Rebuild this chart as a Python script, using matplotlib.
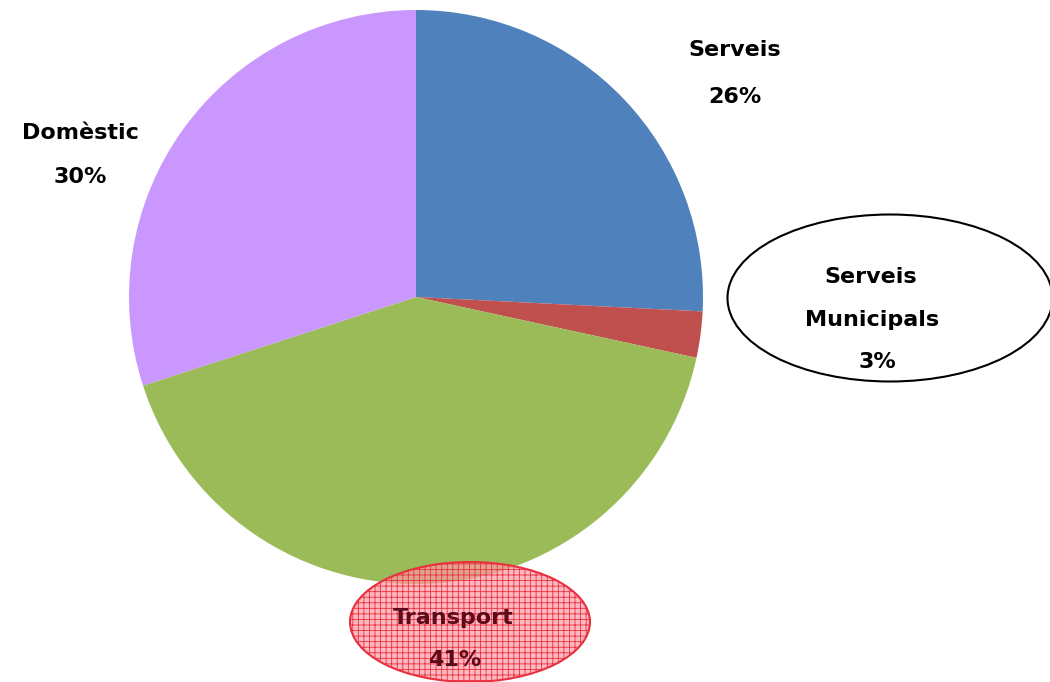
import matplotlib
matplotlib.use("Agg")
from matplotlib import pyplot as plt
from matplotlib.patches import Ellipse

# part de cada sector (sentit horari, des de dalt)
sectors = ["Serveis", "Serveis\nMunicipals", "Transport", "Domèstic"]
valors = [25.8, 2.6, 41.6, 30.0]
etiquetes = ["26%", "3%", "41%", "30%"]
colors = ["#4F81BD", "#C0504D", "#9BBB59", "#C997FD"]

plt.rcParams["hatch.color"] = "#F26A78"
plt.rcParams["hatch.linewidth"] = 0.6

fig = plt.figure(figsize=(10.5, 6.82), dpi=100)
cx, cy, r = 416, 297, 287
ax = fig.add_axes([(cx - r) / 1050, (682 - cy - r) / 682, 2 * r / 1050, 2 * r / 682])
ax.pie(valors, colors=colors, startangle=90, counterclock=False, radius=1,
       wedgeprops=dict(linewidth=0))
ax.set_xlim(-1, 1)
ax.set_ylim(-1, 1)
ax.set_aspect("equal")
ax.axis("off")

def px(x, y):
    return (x - cx) / r, (cy - y) / r

font = dict(fontsize=16, fontweight="bold", family="DejaVu Sans", ha="center", va="center")

# Serveis
ax.text(*px(735, 50), sectors[0], **font, clip_on=False)
ax.text(*px(735, 97), etiquetes[0], **font, clip_on=False)

# Domèstic
ax.text(*px(80, 133), sectors[3], **font, clip_on=False)
ax.text(*px(80, 177), etiquetes[3], **font, clip_on=False)

# Serveis municipals, dins d'una el·lipse
e1 = Ellipse(px(890, 298), 325 / r, 167 / r, facecolor="white", edgecolor="black",
             linewidth=1.5, clip_on=False, zorder=3)
ax.add_patch(e1)
ax.text(*px(871, 277), "Serveis", **font, clip_on=False, zorder=4)
ax.text(*px(872, 320), "Municipals", **font, clip_on=False, zorder=4)
ax.text(*px(877, 362), etiquetes[1], **font, clip_on=False, zorder=4)

# Transport, el·lipse ombrejada
e2 = Ellipse(px(470, 622), 240 / r, 120 / r, facecolor=(1.0, 0.6, 0.65, 0.7),
             edgecolor="#E8303F", linewidth=1.5, hatch="+++", clip_on=False, zorder=3)
ax.add_patch(e2)
ax.text(*px(453, 618), sectors[2], **font, color="#5A0A1A", clip_on=False, zorder=4)
ax.text(*px(455, 660), etiquetes[2], **font, color="#5A0A1A", clip_on=False, zorder=4)

fig.savefig("out.png", dpi=100)
